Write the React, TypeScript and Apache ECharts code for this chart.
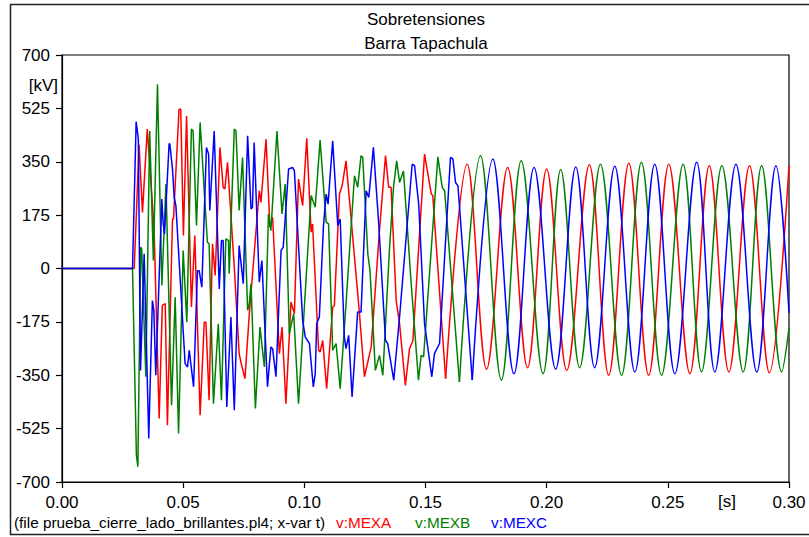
import React, { useEffect, useRef } from "react";
import * as echarts from "echarts";

// Time axis ticks (s) and voltage ticks (kV)
const xTicks = [0, 0.05, 0.1, 0.15, 0.2, 0.25, 0.3];
const yTicks = [-700, -525, -350, -175, 0, 175, 350, 525, 700];

// v:MEXA (red) — [t (s), v (kV)]
const redTransient: number[][] = [
  [0, 0], [0.0298, 0], [0.0318, 406], [0.0332, 184], [0.0352, 457], [0.038, 130], [0.0401, -492],
  [0.0414, -121], [0.0426, -115], [0.0435, -514], [0.0456, 162], [0.046, 162], [0.0483, 522],
  [0.049, 522], [0.0501, 108], [0.0514, 500], [0.0534, -126], [0.0548, 108], [0.057, -481],
  [0.0587, -176], [0.0594, -176], [0.0607, -432], [0.0621, 81], [0.0632, -23], [0.0652, 397],
  [0.0665, 266], [0.0672, 261], [0.0683, 348], [0.0711, 4], [0.0731, -279], [0.0738, -306],
  [0.0755, -361], [0.0773, -148], [0.0814, 255], [0.0821, 217], [0.0842, 424], [0.0858, 135],
  [0.0869, 168], [0.0897, -279], [0.0908, -192], [0.0924, -443], [0.0945, -110], [0.0959, -148],
  [0.0976, 293], [0.0993, 206], [0.101, 427], [0.1028, 119], [0.1034, 146], [0.1059, -268],
  [0.1065, -274], [0.1076, -236], [0.1092, -394], [0.1117, -127], [0.1124, -121], [0.1145, 244],
  [0.1156, 271], [0.1172, 353], [0.1227, -143], [0.1248, -355], [0.1276, -257], [0.131, 124],
  [0.1335, 370], [0.1348, 266], [0.1358, 266], [0.1379, -105], [0.1393, -181], [0.1417, -383],
  [0.1434, -263], [0.1448, -236], [0.1496, 375], [0.1524, 244], [0.153, 239], [0.1583, -361],
];
const redSteady: number[][] = [
  [0.1583, -361], [0.1672, 342], [0.1752, -330], [0.1839, 331], [0.1921, -325], [0.2, 326],
  [0.2083, -334], [0.2176, 340], [0.2256, -350], [0.2339, 345], [0.2421, -350], [0.2504, 342],
  [0.2591, -345], [0.2671, 337], [0.2752, -339], [0.2837, 337], [0.2919, -342], [0.3, 337],
];

// v:MEXB (green)
const greenTransient: number[][] = [
  [0, 0], [0.0291, 0], [0.0307, -612], [0.0313, -650], [0.0325, 70], [0.0329, 64], [0.0346, -355],
  [0.0362, 451], [0.0377, 26], [0.0394, 604], [0.0412, -56], [0.0429, 277], [0.0452, -448],
  [0.0467, -94], [0.0481, -541], [0.05, 59], [0.0515, -176], [0.0534, 457], [0.0541, 451],
  [0.0555, 141], [0.057, 479], [0.06, 86], [0.0607, 81], [0.0625, -443], [0.0645, -181],
  [0.0658, -432], [0.0676, 97], [0.0687, 92], [0.069, -17], [0.0711, 457], [0.0718, 451],
  [0.0731, 190], [0.0745, 364], [0.0766, -137], [0.0773, -115], [0.078, -50], [0.0798, -459],
  [0.0817, -192], [0.0835, -323], [0.0852, 179], [0.0862, 124], [0.0887, 451], [0.0908, 179],
  [0.0921, 277], [0.0938, -214], [0.0956, -148], [0.0976, -443], [0.1028, 239], [0.1045, 201],
  [0.1065, 421], [0.109, 152], [0.11, 146], [0.1117, -268], [0.1131, -246], [0.1148, -394],
  [0.1172, -116], [0.1207, 304], [0.122, 266], [0.1234, 370], [0.1241, 364], [0.1262, 48],
  [0.1271, -7], [0.1293, -334], [0.131, -285], [0.1324, -350], [0.1351, 59], [0.1368, 266],
  [0.1381, 353], [0.1393, 282], [0.1409, 320], [0.1441, -50], [0.1471, -366], [0.1482, -285],
  [0.1492, -290], [0.1551, 366], [0.1569, 266], [0.1579, 255], [0.164, -372],
];
const greenSteady: number[][] = [
  [0.164, -372], [0.1727, 370], [0.1813, -366], [0.1895, 353], [0.1985, -345], [0.2058, 325],
  [0.2136, -325], [0.2222, 342], [0.2309, -350], [0.2391, 348], [0.2474, -350], [0.2563, 342],
  [0.2639, -339], [0.2723, 337], [0.2811, -339], [0.2887, 337], [0.297, -339], [0.3, -195],
];

// v:MEXC (blue)
const blueTransient: number[][] = [
  [0, 0], [0.0291, 0], [0.0306, 482], [0.0315, 424], [0.0324, -334], [0.0339, 48], [0.0358, -557],
  [0.0373, -105], [0.0379, -137], [0.0387, -350], [0.0412, 228], [0.0417, 152], [0.0423, 113],
  [0.0442, 410], [0.0445, 408], [0.0456, 326], [0.0463, 233], [0.047, 206], [0.0508, -312],
  [0.0518, -323], [0.0525, -268], [0.0543, -388], [0.0559, -7], [0.0566, -7], [0.0577, -61],
  [0.0596, 397], [0.0605, 375], [0.061, 190], [0.0628, 451], [0.0649, -67], [0.0658, 92],
  [0.0665, 92], [0.068, -454], [0.0697, -159], [0.0711, -465], [0.0731, 75], [0.0748, -50],
  [0.0766, 435], [0.078, 195], [0.0786, 201], [0.0793, 413], [0.0814, -45], [0.0825, 26],
  [0.0848, -388], [0.0862, -257], [0.0869, -263], [0.0883, -355], [0.0904, 59], [0.0913, 70],
  [0.0935, 326], [0.0952, 331], [0.0959, 320], [0.0993, -170], [0.1004, -225], [0.1021, -246],
  [0.1037, -388], [0.1045, -345], [0.1051, -181], [0.1062, -159], [0.1079, 141], [0.109, 244],
  [0.1098, 211], [0.1117, 419], [0.1138, 141], [0.1148, 162], [0.1165, -225], [0.1172, -263],
  [0.1183, -219], [0.1197, -421], [0.122, -143], [0.1234, -143], [0.1255, 255], [0.1266, 233],
  [0.1285, 397], [0.1307, 146], [0.1335, -236], [0.1344, -246], [0.1369, -366], [0.1393, -159],
  [0.1445, 342], [0.1455, 337], [0.1472, 211], [0.1496, -181], [0.1526, -355], [0.1537, -279],
  [0.1558, -246], [0.1603, 364], [0.1613, 359], [0.1624, 282], [0.1634, 271], [0.1693, -366],
];
const blueSteady: number[][] = [
  [0.1693, -366], [0.1778, 359], [0.1865, -345], [0.1948, 331], [0.2037, -330], [0.212, 333],
  [0.2198, -325], [0.2281, 335], [0.2364, -339], [0.2446, 342], [0.2529, -345], [0.2619, 348],
  [0.2694, -339], [0.2781, 342], [0.2867, -339], [0.2946, 337], [0.3, -145],
];

const titleLines = ["Sobretensiones", "Barra Tapachula"];
const fileNote = "(file prueba_cierre_lado_brillantes.pl4; x-var t)";
const legendNames = ["v:MEXA", "v:MEXB", "v:MEXC"];
const colors = ["#ff0000", "#008000", "#0000ff"];

const FONT = '"Liberation Sans", Arial, sans-serif';

export default function App() {
  const ref = useRef<HTMLDivElement>(null);
  useEffect(() => {
    if (!ref.current) return;
    const chart = echarts.init(ref.current, null, { renderer: "svg" });
    const line = (data: number[][], color: string, smooth: number | false) => ({
      type: "line",
      data,
      smooth,
      showSymbol: false,
      symbol: "none",
      lineStyle: { color, width: 1.5 },
      itemStyle: { color },
      silent: true,
      clip: true,
    });
    const txt = (text: string, x: number, y: number, size: number, fill: string, align = "left") => ({
      type: "text",
      x,
      y,
      silent: true,
      style: {
        text,
        fill,
        font: `${size}px ${FONT}`,
        align,
        textAlign: align,
        verticalAlign: "middle",
        textVerticalAlign: "middle",
      },
    });
    chart.setOption({
      animation: false,
      backgroundColor: "#ffffff",
      textStyle: { fontFamily: FONT },
      grid: {
        left: 62,
        right: 20,
        top: 55,
        bottom: 55,
        show: true,
        borderColor: "#000",
        borderWidth: 1.2,
        containLabel: false,
      },
      xAxis: {
        type: "value",
        min: xTicks[0],
        max: xTicks[xTicks.length - 1],
        interval: 0.05,
        axisLine: { show: true, onZero: false, lineStyle: { color: "#000", width: 1.2 } },
        axisTick: { show: true, inside: false, length: 6, lineStyle: { color: "#000", width: 1.2 } },
        axisLabel: {
          color: "#000",
          fontSize: 17,
          margin: 12,
          showMinLabel: true,
          showMaxLabel: true,
          formatter: (v: number) => v.toFixed(2),
        },
        splitLine: { show: false },
      },
      yAxis: {
        type: "value",
        min: yTicks[0],
        max: yTicks[yTicks.length - 1],
        interval: 175,
        axisLine: { show: true, onZero: false, lineStyle: { color: "#000", width: 1.2 } },
        axisTick: { show: true, inside: false, length: 6, lineStyle: { color: "#000", width: 1.2 } },
        axisLabel: {
          color: "#000",
          fontSize: 17,
          margin: 12,
          showMinLabel: true,
          showMaxLabel: true,
          formatter: (v: number) => String(v),
        },
        splitLine: { show: false },
      },
      graphic: [
        {
          type: "rect",
          silent: true,
          z: -10,
          shape: { x: 10.5, y: 4.5, width: 830, height: 530 },
          style: { fill: "none", stroke: "#222", lineWidth: 1.5 },
        },
        txt(titleLines[0], 426, 19, 17, "#000", "center"),
        txt(titleLines[1], 426, 43, 17, "#000", "center"),
        txt("[kV]", 58, 85, 17, "#000", "right"),
        txt("[s]", 727, 501, 17, "#000", "center"),
        txt(fileNote, 14, 522, 15.3, "#000"),
        txt(legendNames[0], 336, 522, 15.3, colors[0]),
        txt(legendNames[1], 415, 522, 15.3, colors[1]),
        txt(legendNames[2], 491, 522, 15.3, colors[2]),
      ],
      series: [
        line(redTransient, colors[0], false),
        line(redSteady, colors[0], 0.36),
        line(greenTransient, colors[1], false),
        line(greenSteady, colors[1], 0.36),
        line(blueTransient, colors[2], false),
        line(blueSteady, colors[2], 0.36),
      ],
    });
    return () => chart.dispose();
  }, []);
  return (
    <div
      ref={ref}
      style={{ position: "absolute", left: 0, top: 0, width: 809, height: 537, background: "#fff" }}
    />
  );
}
